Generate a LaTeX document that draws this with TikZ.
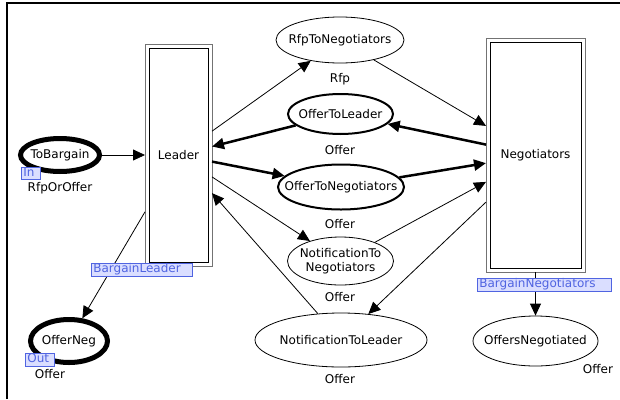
\documentclass[tikz,border=0pt]{standalone}
\usepackage{fontspec}
\setmainfont{DejaVu Sans}
\usetikzlibrary{arrows.meta,shapes.geometric}
\definecolor{lblblue}{RGB}{80,100,225}
\definecolor{lblfill}{RGB}{218,222,255}
\begin{document}
\begin{tikzpicture}[x=1pt,y=-1pt,
  font=\fontsize{12}{14}\selectfont,
  place/.style={ellipse, draw, line width=0.8pt, inner sep=0pt},
  portplace/.style={place, line width=5pt},
  thickplace/.style={place, line width=2pt},
  subst/.style={rectangle, draw=black!55, line width=0.9pt, outer sep=0pt, inner sep=0pt},
  arr/.style={-{Triangle[length=12pt,width=11pt]}, line width=0.8pt},
  tharr/.style={-{Triangle[length=12pt,width=11pt]}, line width=2.5pt},
  lbl/.style={draw=lblblue, fill=lblfill, text=lblblue, line width=0.7pt,
    inner xsep=2pt, inner ysep=0.5pt, text height=9pt, text depth=2.5pt,
    align=left, anchor=north west},
  txt/.style={inner sep=0pt}
]
\useasboundingbox (0,0) rectangle (620,399);
\draw[line width=1.2pt] (7,399) -- (7,3) -- (620,3);

% substitution transitions
\node[subst, minimum width=67pt, minimum height=222pt] (Leader) at (178.5,155) {};
\draw[line width=0.9pt] ([shift={(4pt,-4pt)}]Leader.north west) rectangle ([shift={(-4pt,4pt)}]Leader.south east);
\node[txt] at (Leader.center) {Leader};

\node[subst, minimum width=99pt, minimum height=234pt] (Neg) at (535.5,155) {};
\draw[line width=0.9pt] ([shift={(4pt,-4pt)}]Neg.north west) rectangle ([shift={(-4pt,4pt)}]Neg.south east);
\node[txt] at (Neg.center) {Negotiators};

% places
\node[portplace, minimum width=79pt, minimum height=33pt, label=center:ToBargain] (ToBargain) at (60,155) {};
\node[txt] (tbType) at (60,188) {RfpOrOffer};

\node[portplace, minimum width=77pt, minimum height=43pt, label=center:OfferNeg] (OfferNeg) at (69,341) {};
\node[txt] (onType) at (50,374) {Offer};

\node[place, minimum width=128pt, minimum height=46pt, label=center:RfpToNegotiators] (RfpTN) at (340,40) {};
\node[txt] at (340,79) {Rfp};

\node[thickplace, minimum width=105pt, minimum height=40pt, label=center:OfferToLeader] (OTL) at (340.5,114) {};
\node[txt] at (340,150) {Offer};

\node[thickplace, minimum width=126pt, minimum height=45pt, label=center:OfferToNegotiators] (OTN) at (341,187) {};
\node[txt] at (340,224) {Offer};

\node[place, minimum width=106pt, minimum height=48pt,
  label={[align=center]center:NotificationTo\\Negotiators}] (NTN) at (340.5,261) {};
\node[txt] at (340,297) {Offer};

\node[place, minimum width=172pt, minimum height=54pt, label=center:NotificationToLeader] (NTL) at (341,340) {};
\node[txt] at (340,379) {Offer};

\node[place, minimum width=125pt, minimum height=50pt, label=center:OffersNegotiated] (ON) at (535.5,341) {};
\node[txt] at (598,369) {Offer};

% arcs
\draw[arr] (ToBargain) -- (Leader);
\draw[arr] (Leader) -- (RfpTN);
\draw[arr] (RfpTN) -- (Neg);
\draw[tharr] (Neg) -- (OTL);
\draw[tharr] (OTL) -- (Leader);
\draw[tharr] (Leader) -- (OTN);
\draw[tharr] (OTN) -- (Neg);
\draw[arr] (Leader) -- (NTN);
\draw[arr] (NTN) -- (Neg);
\draw[arr] (Neg) -- (NTL);
\draw[arr] (NTL) -- (Leader);
\draw[arr] (Leader) -- (OfferNeg);
\draw[arr] (Neg) -- (ON);

% port / socket labels
\node[lbl, text width=15pt] (inTag) at (21,166.5) {In};
\node[lbl, text width=25pt] (outTag) at (25,353) {Out};
\node[lbl, text width=97pt] (blTag) at (91,263) {BargainLeader};
\node[lbl, text width=130pt] (bnTag) at (477,278) {BargainNegotiators};
\end{tikzpicture}
\end{document}
